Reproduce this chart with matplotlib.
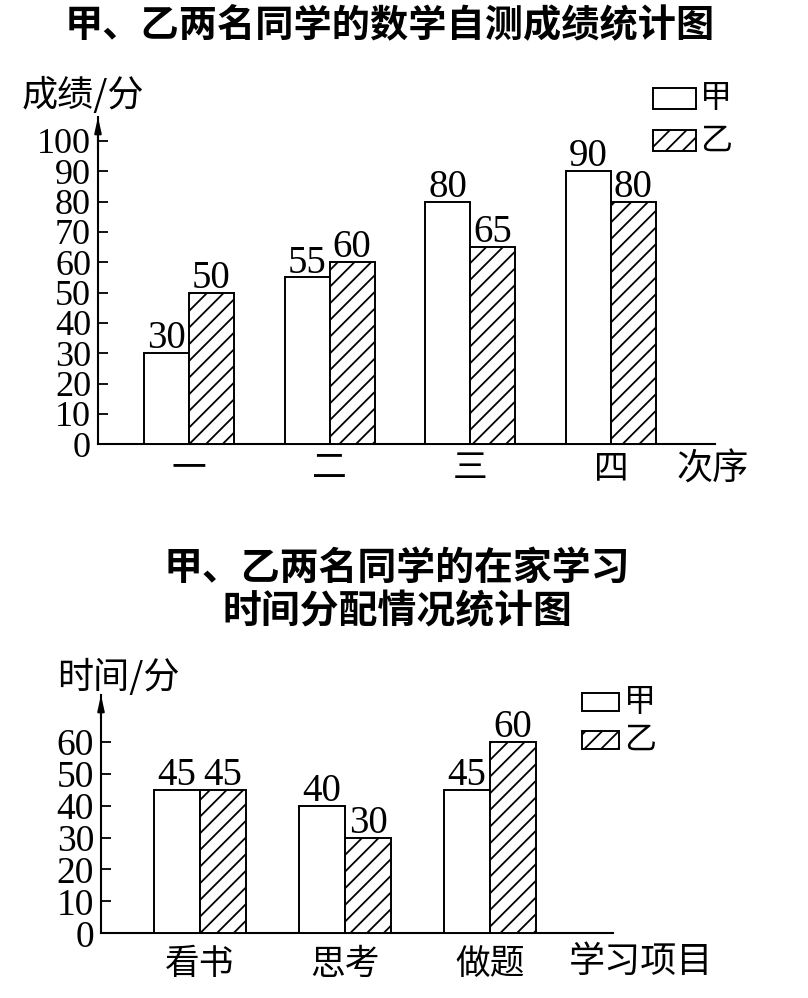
import matplotlib
matplotlib.use('Agg')
import matplotlib.pyplot as plt
from matplotlib.patches import Rectangle
import numpy as np

plt.rcParams['font.family'] = ['Noto Sans CJK SC', 'DejaVu Sans']
plt.rcParams['hatch.linewidth'] = 1.3

W, H = 808, 998

series_names = ['甲', '乙']
hatches = ['', '//']

# Chart 1: math self-test scores
title1 = '甲、乙两名同学的数学自测成绩统计图'
ylabel1 = '成绩/分'
xlabel1 = '次序'
rounds = ['一', '二', '三', '四']
score_jia = [30, 55, 80, 90]
score_yi = [50, 60, 65, 80]
score_ticks = list(range(0, 101, 10))

# Chart 2: study time at home
title2 = '甲、乙两名同学的在家学习\n时间分配情况统计图'
ylabel2 = '时间/分'
xlabel2 = '学习项目'
items = ['看书', '思考', '做题']
time_jia = [45, 40, 45]
time_yi = [45, 30, 60]
time_ticks = list(range(0, 61, 10))

fig = plt.figure(figsize=(W / 100, H / 100), dpi=100)
fig.patch.set_facecolor('white')


def fx(x):
    return x / W


def fy(y):
    return 1 - y / H


def axes_px(left, top, right, bottom):
    return fig.add_axes([fx(left), fy(bottom), (right - left) / W, (bottom - top) / H])


def draw(ax, cats, vals_list, ticks, xlim, ylim, bw, tick_fs, val_fs, cat_fs, cat_pad):
    x = np.arange(len(cats))
    for i, (vals, hatch) in enumerate(zip(vals_list, hatches)):
        offs = (i - 0.5) * bw
        bars = ax.bar(x + offs, vals, bw, facecolor='white', edgecolor='black',
                      linewidth=1.4, hatch=hatch, zorder=3)
        for b, v in zip(bars, vals):
            ax.annotate(str(v), (b.get_x() + b.get_width() / 2, v), xytext=(0, 3.5),
                        textcoords='offset points', ha='center', va='baseline',
                        fontsize=val_fs, family='Liberation Serif')
    ax.set_xlim(*xlim)
    ax.set_ylim(*ylim)
    for s in ['top', 'right']:
        ax.spines[s].set_visible(False)
    for s in ['left', 'bottom']:
        ax.spines[s].set_linewidth(1.5)
    ax.set_yticks(ticks, labels=[str(t) for t in ticks], fontfamily='Liberation Serif')
    ax.tick_params(axis='y', direction='in', length=7, width=1.3, pad=5, labelsize=tick_fs)
    ax.set_xticks(x, labels=cats)
    ax.tick_params(axis='x', length=0, pad=cat_pad, labelsize=cat_fs)
    ax.patch.set_alpha(0)
    ax.annotate('', xy=(0, 1), xytext=(0, 0.9), xycoords='axes fraction',
                arrowprops=dict(arrowstyle='-|>,head_length=0.9,head_width=0.2',
                                color='black', lw=1.5, shrinkA=0, shrinkB=0))


def legend_px(left, tops, bw_px, bh_px, fs, gap):
    for name, hatch, top in zip(series_names, hatches, tops):
        fig.add_artist(Rectangle((fx(left), fy(top + bh_px)), bw_px / W, bh_px / H,
                                 transform=fig.transFigure, facecolor='white',
                                 edgecolor='black', linewidth=1.4, hatch=hatch))
        fig.text(fx(left + bw_px + gap), fy(top + bh_px / 2), name, fontsize=fs,
                 ha='left', va='center')


# ---------- Chart 1 ----------
fig.text(fx(390), fy(26), title1, fontsize=27.5, fontweight='bold', ha='center', va='center')
ax1 = axes_px(98, 117, 715, 444.3)
draw(ax1, rounds, [score_jia, score_yi], score_ticks,
     (-0.647, 3.74), (0, 107.9), 0.32, 26, 28, 25, 5)
fig.text(fx(22), fy(95), ylabel1, fontsize=26, ha='left', va='center')
fig.text(fx(713), fy(470), xlabel1, fontsize=26, ha='center', va='center')
legend_px(653, [88, 130], 43, 21, 23, 4)

# ---------- Chart 2 ----------
fig.text(fx(397), fy(590), title2, fontsize=28, fontweight='bold', ha='center',
         va='center', linespacing=1.15)
ax2 = axes_px(101, 695, 613, 933.3)
draw(ax2, items, [time_jia, time_yi], time_ticks,
     (-0.683, 2.848), (0, 74.7), 0.317, 27, 28, 25, 10)
fig.text(fx(57), fy(677), ylabel2, fontsize=26, ha='left', va='center')
fig.text(fx(641), fy(962), xlabel2, fontsize=26, ha='center', va='center')
legend_px(582, [693, 731], 37, 18, 23, 5)

fig.savefig('out.png', dpi=100, facecolor='white')
